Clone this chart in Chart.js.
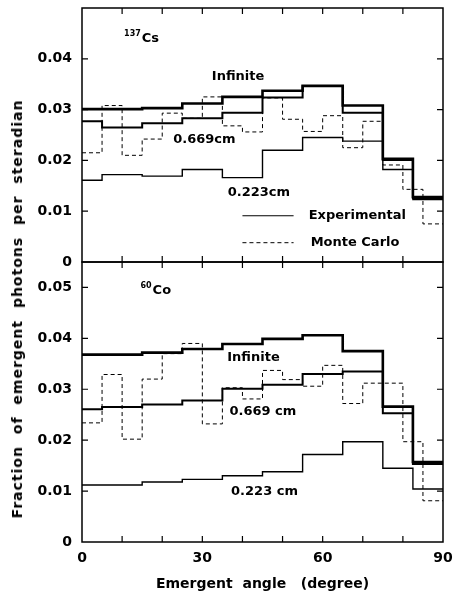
<!DOCTYPE html>
<html>
<head>
<meta charset="utf-8">
<script src="https://cdn.jsdelivr.net/npm/chart.js@4"></script>
<style>
  body { margin: 0; background: #fff; }
  #wrap { position: relative; width: 453px; height: 596px; background: #fff; }
  .box { position: absolute; left: 0; width: 453px; }
  #ytitle {
    position: absolute; left: 17px; top: 309px;
    transform: translate(-50%, -50%) rotate(-90deg);
    white-space: nowrap; font: bold 14px "DejaVu Sans"; letter-spacing: 1px; word-spacing: 6px; color: #000;
  }
</style>
</head>
<body>
<div id="wrap">
  <div class="box" style="top:0;height:270px"><canvas id="graficoCs"></canvas></div>
  <div class="box" style="top:254px;height:342px"><canvas id="graficoCo"></canvas></div>
  <div id="ytitle">Fraction of emergent photons per steradian</div>
</div>
<script>
// bordes de los intervalos (grados)
const bordesExp = [0, 5, 15, 25, 35, 45, 55, 65, 75, 82.5, 90];
const bordesMC = [0, 5, 10, 15, 20, 25, 30, 35, 40, 45, 50, 55, 60, 65, 70, 75, 80, 85, 90];

// 137Cs
const csInfinito = [0.0301, 0.0301, 0.0303, 0.0312, 0.0325, 0.0337, 0.0347, 0.0308, 0.0203, 0.0128];
const cs0669 = [0.0277, 0.0265, 0.0273, 0.0283, 0.0294, 0.0324, 0.0346, 0.0294, 0.0201, 0.0126];
const cs0223 = [0.0161, 0.0172, 0.0169, 0.0182, 0.0166, 0.0220, 0.0245, 0.0238, 0.0182, 0.0123];
const csMonteCarlo = [0.0215, 0.0308, 0.0210, 0.0242, 0.0293, 0.0283, 0.0325, 0.0268, 0.0256,
                      0.0323, 0.0281, 0.0257, 0.0288, 0.0225, 0.0277, 0.0191, 0.0143, 0.0075];

// 60Co
const coInfinito = [0.0368, 0.0368, 0.0372, 0.0379, 0.0389, 0.0399, 0.0406, 0.0375, 0.0266, 0.0157];
const co0669 = [0.0261, 0.0265, 0.0270, 0.0278, 0.0301, 0.0309, 0.0330, 0.0335, 0.0253, 0.0153];
const co0223 = [0.0112, 0.0112, 0.0118, 0.0123, 0.0130, 0.0138, 0.0172, 0.0197, 0.0145, 0.0104];
const coMonteCarlo = [0.0234, 0.0329, 0.0202, 0.0320, 0.0370, 0.0390, 0.0232, 0.0303, 0.0281,
                      0.0337, 0.0319, 0.0306, 0.0347, 0.0272, 0.0312, 0.0312, 0.0197, 0.0081];

const ticksX = [0, 30, 60, 90];

Chart.defaults.font.family = '"DejaVu Sans"';
Chart.defaults.font.weight = 'bold';
Chart.defaults.color = '#000';

function Escalones(bordes, valores) {
    // el primer punto lleva el primer valor; cada punto siguiente cierra el intervalo anterior
    let puntos = [{ x: bordes[0], y: valores[0] }];
    for (let i = 1; i < bordes.length; i++) {
        let v = i < valores.length ? valores[i] : valores[valores.length - 1];
        puntos.push({ x: bordes[i], y: v });
    }
    return puntos;
}

function Serie(bordes, valores, grosor, guiones) {
    return {
        data: Escalones(bordes, valores),
        stepped: 'before',
        borderColor: '#000',
        borderWidth: grosor,
        borderDash: guiones || [],
        pointRadius: 0,
        fill: false
    };
}

// ancho fijo del eje y, sin relleno extra arriba/abajo
function AjusteY(s) {
    s.width = 82;
    s.paddingTop = 0;
    s.paddingBottom = 0;
}

// marco con marcas hacia adentro
const marco = {
    id: 'marco',
    afterDatasetsDraw(chart) {
        const { ctx, chartArea: a, scales: { x, y } } = chart;
        ctx.save();
        ctx.strokeStyle = '#000';
        ctx.lineWidth = 1.5;
        ctx.strokeRect(a.left, a.top, a.right - a.left, a.bottom - a.top);
        ctx.lineWidth = 1.2;
        ctx.beginPath();
        for (let g = 10; g < 90; g += 10) {
            let px = x.getPixelForValue(g);
            ctx.moveTo(px, a.bottom); ctx.lineTo(px, a.bottom - 6);
            ctx.moveTo(px, a.top); ctx.lineTo(px, a.top + 6);
        }
        for (let v = 0.01; v < y.max - 0.001; v += 0.01) {
            let py = y.getPixelForValue(v);
            ctx.moveTo(a.left, py); ctx.lineTo(a.left + 6, py);
            ctx.moveTo(a.right, py); ctx.lineTo(a.right - 6, py);
        }
        ctx.stroke();
        ctx.restore();
    }
};

// textos dentro del grafico
const notas = {
    id: 'notas',
    afterDatasetsDraw(chart, args, opts) {
        const { ctx, scales: { x, y } } = chart;
        ctx.save();
        ctx.fillStyle = '#000';
        ctx.strokeStyle = '#000';
        ctx.textBaseline = 'middle';
        (opts.textos || []).forEach(t => {
            let px = x.getPixelForValue(t.x);
            let py = y.getPixelForValue(t.y);
            ctx.font = 'bold 13px "DejaVu Sans"';
            ctx.textAlign = t.align || 'center';
            ctx.fillText(t.text, px, py);
            if (t.sup) {
                ctx.font = 'bold 8px "DejaVu Sans"';
                ctx.textAlign = 'right';
                ctx.fillText(t.sup, px - 1, py - 5);
            }
        });
        (opts.leyenda || []).forEach(l => {
            let py = y.getPixelForValue(l.y);
            ctx.beginPath();
            ctx.lineWidth = l.grosor;
            ctx.setLineDash(l.guiones);
            ctx.moveTo(x.getPixelForValue(l.x0), py);
            ctx.lineTo(x.getPixelForValue(l.x1), py);
            ctx.stroke();
            ctx.setLineDash([]);
            ctx.font = 'bold 13px "DejaVu Sans"';
            ctx.textAlign = 'left';
            ctx.fillText(l.text, x.getPixelForValue(l.xt), py);
        });
        ctx.restore();
    }
};

function EtiquetaY(max) {
    return function (v) {
        if (v > max + 0.0001) return '';
        return v === 0 ? '0' : v.toFixed(2);
    };
}

// 137Cs (arriba)
new Chart(document.getElementById('graficoCs'), {
    type: 'line',
    data: {
        datasets: [
            Serie(bordesExp, csInfinito, 2.6),
            Serie(bordesExp, cs0669, 2),
            Serie(bordesExp, cs0223, 1.4),
            Serie(bordesMC, csMonteCarlo, 1, [4, 3])
        ]
    },
    options: {
        responsive: true, maintainAspectRatio: false, animation: false,
        layout: { autoPadding: false, padding: { top: 8, right: 10, bottom: 8, left: 0 } },
        plugins: {
            legend: { display: false }, tooltip: { enabled: false },
            notas: {
                textos: [
                    { text: 'Cs', sup: '137', x: 14.9, y: 0.0440, align: 'left' },
                    { text: 'Infinite', x: 38.9, y: 0.0365 },
                    { text: '0.669cm', x: 30.5, y: 0.0240 },
                    { text: '0.223cm', x: 44.1, y: 0.0137 }
                ],
                leyenda: [
                    { text: 'Experimental', x0: 40, x1: 52.75, xt: 56.5, y: 0.0091, grosor: 1.2, guiones: [] },
                    { text: 'Monte Carlo', x0: 40, x1: 52.75, xt: 57, y: 0.0038, grosor: 1, guiones: [4, 3] }
                ]
            }
        },
        scales: {
            x: { type: 'linear', min: 0, max: 90, display: false },
            y: {
                min: 0, max: 0.05,
                afterFit: AjusteY,
                grid: { display: false, drawTicks: false }, border: { display: false },
                ticks: { stepSize: 0.01, padding: 10, font: { size: 14, weight: 'bold' }, callback: EtiquetaY(0.04) }
            }
        }
    },
    plugins: [marco, notas]
});

// 60Co (abajo)
new Chart(document.getElementById('graficoCo'), {
    type: 'line',
    data: {
        datasets: [
            Serie(bordesExp, coInfinito, 2.6),
            Serie(bordesExp, co0669, 2),
            Serie(bordesExp, co0223, 1.4),
            Serie(bordesMC, coMonteCarlo, 1, [4, 3])
        ]
    },
    options: {
        responsive: true, maintainAspectRatio: false, animation: false,
        layout: { autoPadding: false, padding: { top: 8, right: 10, bottom: 0, left: 0 } },
        plugins: {
            legend: { display: false }, tooltip: { enabled: false },
            notas: {
                textos: [
                    { text: 'Co', sup: '60', x: 17.6, y: 0.0494, align: 'left' },
                    { text: 'Infinite', x: 42.75, y: 0.0362 },
                    { text: '0.669 cm', x: 45.1, y: 0.0256 },
                    { text: '0.223 cm', x: 45.5, y: 0.0098 }
                ]
            }
        },
        scales: {
            x: {
                type: 'linear', min: 0, max: 90,
                afterFit: s => { s.height = 54; s.paddingLeft = 0; s.paddingRight = 0; },
                afterBuildTicks: s => { s.ticks = ticksX.map(v => ({ value: v })); },
                grid: { display: false, drawTicks: false }, border: { display: false },
                ticks: { padding: 8, font: { size: 14, weight: 'bold' } },
                title: { display: true, text: 'Emergent  angle   (degree)', padding: { top: 0, bottom: 3 }, font: { size: 14, weight: 'bold' } }
            },
            y: {
                min: 0, max: 0.055,
                afterFit: AjusteY,
                grid: { display: false, drawTicks: false }, border: { display: false },
                ticks: { stepSize: 0.01, padding: 10, font: { size: 14, weight: 'bold' }, callback: EtiquetaY(0.05) }
            }
        }
    },
    plugins: [marco, notas]
});
</script>
</body>
</html>
